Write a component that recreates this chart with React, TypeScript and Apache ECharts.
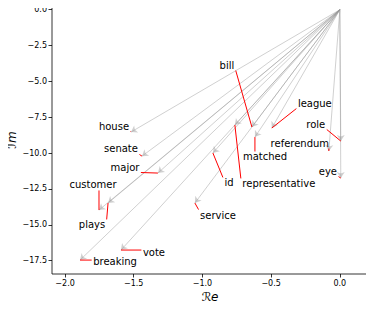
import React, { useEffect, useRef } from "react";
import * as echarts from "echarts";

// words and their complex embedding endpoints (Re, Im)
const words = ["house", "senate", "major", "customer", "plays", "breaking", "vote", "service", "id", "representative", "matched", "bill", "league", "role", "referendum", "eye"];
const reValues = [-1.52, -1.44, -1.324, -1.753, -1.687, -1.891, -1.593, -1.055, -0.924, -0.764, -0.618, -0.64, -0.495, 0.007, -0.08, 0.007];
const imValues = [-8.53, -10.21, -11.39, -13.97, -13.48, -17.46, -16.76, -13.48, -9.99, -8.04, -8.88, -8.18, -8.25, -9.16, -9.85, -11.74];
// label anchor positions (data coordinates, as placed by the label adjuster)
const labelRe = [-1.644, -1.593, -1.564, -1.796, -1.804, -1.636, -1.353, -0.887, -0.807, -0.444, -0.545, -0.822, -0.182, -0.175, -0.291, -0.087];
const labelIm = [-8.11, -9.71, -10.97, -12.22, -15.01, -17.59, -16.9, -14.32, -12.08, -12.15, -10.27, -3.86, -6.51, -7.97, -9.3, -11.25];

const xTicks = [-2.0, -1.5, -1.0, -0.5, 0.0];
const yTicks = [0.0, -2.5, -5.0, -7.5, -10.0, -12.5, -15.0, -17.5];

const FONT = "DejaVu Sans";

function fmt(v: number) {
  const s = Math.abs(v).toFixed(1);
  return v < -1e-9 ? "\u2212" + s : s;
}

let ctx: CanvasRenderingContext2D | null = null;
function textWidth(t: string) {
  if (!ctx) ctx = document.createElement("canvas").getContext("2d");
  if (!ctx) return t.length * 6;
  ctx.font = `10px "${FONT}"`;
  return ctx.measureText(t).width;
}

export default function App() {
  const ref = useRef<HTMLDivElement>(null);
  useEffect(() => {
    if (!ref.current) return;
    const chart = echarts.init(ref.current, null, { renderer: "svg" });
    const arrows = words.map((w, i) => ({
      coords: [
        [0, 0],
        [reValues[i], imValues[i]],
      ],
    }));
    const labelData = words.map((w, i) => [reValues[i], imValues[i], labelRe[i], labelIm[i]]);
    const nameRich = {
      s: { fontFamily: FONT, fontSize: 12, fill: "#000" },
      i: { fontFamily: FONT, fontSize: 12, fontStyle: "italic", fill: "#000" },
    };
    chart.setOption({
      animation: false,
      grid: {
        left: 52,
        right: 6,
        top: 6,
        bottom: 36,
        show: true,
        borderColor: "#000",
        borderWidth: 0.8,
        backgroundColor: "transparent",
        containLabel: false,
        outerBoundsMode: "none",
      },
      graphic: [
        {
          type: "text",
          x: 210,
          y: 297,
          style: { text: "{s|\u211B}{i|e}", rich: nameRich, align: "center", verticalAlign: "middle" },
        },
        {
          type: "text",
          x: 12,
          y: 140,
          rotation: Math.PI / 2,
          style: { text: "{s|\u2110}{i|m}", rich: nameRich, align: "center", verticalAlign: "middle" },
        },
      ],
      xAxis: {
        type: "value",
        min: -2.095,
        max: 0.205,
        splitLine: { show: false },
        axisLine: { show: false, onZero: false },
        axisTick: { show: true, length: 3.5, lineStyle: { color: "#000", width: 0.8 }, customValues: xTicks },
        axisLabel: {
          customValues: xTicks,
          formatter: (v: number) => fmt(v),
          fontFamily: FONT,
          fontSize: 8,
          color: "#000",
          margin: 5,
        },
      },
      yAxis: {
        type: "value",
        min: -18.43,
        max: 0.26,
        splitLine: { show: false },
        axisLine: { show: false, onZero: false },
        axisTick: { show: true, length: 3.5, lineStyle: { color: "#000", width: 0.8 }, customValues: yTicks },
        axisLabel: {
          customValues: yTicks,
          formatter: (v: number) => fmt(v),
          fontFamily: FONT,
          fontSize: 8,
          color: "#000",
          margin: 5,
        },
      },
      series: [
        {
          type: "lines",
          coordinateSystem: "cartesian2d",
          data: arrows,
          symbol: ["none", "arrow"],
          symbolSize: 6,
          lineStyle: { color: "rgba(150,150,150,0.45)", width: 1, opacity: 1 },
          itemStyle: { color: "rgba(190,190,190,0.9)" },
          silent: true,
          z: 2,
        },
        {
          type: "custom",
          coordinateSystem: "cartesian2d",
          data: labelData,
          encode: { x: [0, 2], y: [1, 3] },
          clip: false,
          z: 3,
          renderItem: (params: any, api: any) => {
            const i = params.dataIndex;
            const name = words[i];
            const t = api.coord([api.value(0), api.value(1)]);
            const c = api.coord([api.value(2), api.value(3)]);
            const w = textWidth(name);
            const pad = 1.5;
            const x0 = c[0] - w / 2 - pad;
            const x1 = c[0] + w / 2 + pad;
            const y0 = c[1] - 5.5;
            const y1 = c[1] + 5.5;
            const px = Math.min(Math.max(t[0], x0), x1);
            const py = Math.min(Math.max(t[1], y0), y1);
            return {
              type: "group",
              children: [
                {
                  type: "line",
                  shape: { x1: px, y1: py, x2: t[0], y2: t[1] },
                  style: { stroke: "#ff0000", lineWidth: 1 },
                },
                {
                  type: "text",
                  x: c[0],
                  y: c[1],
                  style: {
                    text: name,
                    fontFamily: FONT,
                    fontSize: 10,
                    fill: "#000",
                    align: "center",
                    verticalAlign: "middle",
                  },
                },
              ],
            };
          },
        },
      ],
    });
    return () => chart.dispose();
  }, []);
  return <div ref={ref} style={{ width: 374, height: 310, margin: -8 }} />;
}
